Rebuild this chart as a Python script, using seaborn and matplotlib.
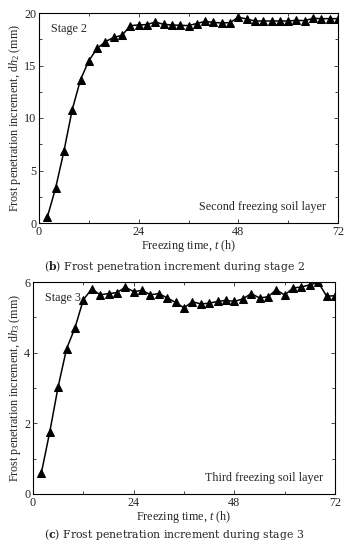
import numpy as np
import pandas as pd
import matplotlib
matplotlib.use("Agg")
import matplotlib.pyplot as plt
from matplotlib.ticker import MultipleLocator
import seaborn as sns

# ---- data ----
time_h = list(range(2, 74, 2))
dh2 = [0.55, 3.33, 6.83, 10.8, 13.65, 15.46, 16.63, 17.27, 17.68, 17.87,
       18.8, 18.86, 18.9, 19.14, 18.92, 18.86, 18.83, 18.8, 19.0, 19.2,
       19.1, 19.05, 19.08, 19.6, 19.43, 19.24, 19.24, 19.24, 19.24, 19.24,
       19.3, 19.27, 19.5, 19.46, 19.46, 19.46]
dh3 = [0.6, 1.76, 3.04, 4.11, 4.70, 5.5, 5.8, 5.64, 5.67, 5.7,
       5.85, 5.73, 5.76, 5.64, 5.67, 5.55, 5.42, 5.27, 5.44, 5.38,
       5.4, 5.45, 5.48, 5.45, 5.52, 5.67, 5.55, 5.58, 5.78, 5.63,
       5.83, 5.86, 5.92, 5.99, 5.6, 5.61]
x_ticks = [0, 24, 48, 72]
stage_labels = ["Stage 2", "Stage 3"]
layer_labels = ["Second freezing soil layer", "Third freezing soil layer"]

sns.set_style("ticks")
plt.rcParams['font.family'] = ['Liberation Serif', 'DejaVu Serif']
plt.rcParams['mathtext.fontset'] = 'custom'
plt.rcParams['mathtext.rm'] = 'Liberation Serif'
plt.rcParams['mathtext.it'] = 'Liberation Serif:italic'
plt.rcParams['mathtext.bf'] = 'DejaVu Serif:bold'
plt.rcParams['xtick.direction'] = 'in'
plt.rcParams['ytick.direction'] = 'in'

fig = plt.figure(figsize=(3.49, 5.5), dpi=100)
ax1 = fig.add_axes([39/349, 1-223/550, 299/349, 210/550])
ax2 = fig.add_axes([33/349, 1-494/550, 302/349, 212/550])

df2 = pd.DataFrame({"t": time_h, "v": dh2})
df3 = pd.DataFrame({"t": time_h, "v": dh3})

fs = 8.7
for ax, df, ymax, ymaj, ymin, sub, stage, layer in [
        (ax1, df2, 20, 5, 2.5, "2", stage_labels[0], layer_labels[0]),
        (ax2, df3, 6, 2, 1, "3", stage_labels[1], layer_labels[1])]:
    sns.lineplot(data=df, x="t", y="v", ax=ax, color="black", linewidth=1.1,
                 marker="^", markersize=5.5, markeredgecolor="black",
                 markerfacecolor="black")
    ax.set_xlim(0, 72)
    ax.set_ylim(0, ymax)
    ax.set_xticks(x_ticks)
    ax.xaxis.set_minor_locator(MultipleLocator(12))
    ax.yaxis.set_major_locator(MultipleLocator(ymaj))
    ax.yaxis.set_minor_locator(MultipleLocator(ymin))
    ax.tick_params(which="both", top=True, right=True, labelsize=fs,
                   width=0.6, pad=2)
    ax.tick_params(which="major", length=3)
    ax.tick_params(which="minor", length=2)
    for s in ax.spines.values():
        s.set_linewidth(0.8)
        s.set_color("black")
    ax.set_xlabel(r"Freezing time, $\it{t}$ (h)", fontsize=fs, labelpad=0)
    ax.set_ylabel(r"Frost penetration increment, d$\it{h}_{" + sub + "}$ (mm)",
                  fontsize=fs, labelpad=1)
    ax.text(0.04, 0.925, stage, transform=ax.transAxes, fontsize=fs,
            ha="left", va="center")
    ax.text(0.96, 0.075, layer, transform=ax.transAxes, fontsize=fs,
            ha="right", va="center")

fig.text(0.5, 1-267/550, r"($\mathbf{b}$) Frost penetration increment during stage 2",
         ha="center", va="center", fontsize=7.8, family="DejaVu Serif")
fig.text(0.5, 1-535/550, r"($\mathbf{c}$) Frost penetration increment during stage 3",
         ha="center", va="center", fontsize=7.8, family="DejaVu Serif")

fig.savefig("out.png", dpi=100)
